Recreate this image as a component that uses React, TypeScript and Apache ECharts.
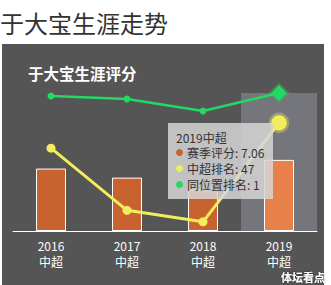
import React, { useEffect, useRef } from "react";
import * as echarts from "echarts";

const years = ["2016", "2017", "2018", "2019"];
const leagues = ["中超", "中超", "中超", "中超"];
const seriesNames = ["赛季评分", "中超排名", "同位置排名"];
const scores = [6.2, 5.3, 4.1, 7.06];
const leagueRanks = [36, 9, 4, 47];
const positionRanks = [2, 3, 7, 1];
const focusIndex = 3;

const FONT = "'Noto Sans CJK SC', 'Noto Sans', sans-serif";
const BAR = "#c8622e";
const BAR_HI = "#e8804a";
const YELLOW = "#f2ed5c";
const GREEN = "#22d964";

export default function App() {
  const ref = useRef<HTMLDivElement>(null);
  useEffect(() => {
    if (!ref.current) return;
    const chart = echarts.init(ref.current, null, { renderer: "svg" });
    const colors = [BAR, YELLOW, GREEN];
    const values = [scores, leagueRanks, positionRanks];
    const tipLines = seriesNames.map((n, i) => `${n}: ${values[i][focusIndex]}`);
    const TZ = 100;
    const option: any = {
      animation: false,
      backgroundColor: "#fff",
      textStyle: { fontFamily: FONT },
      grid: { left: 13, right: 14, top: 93, bottom: 54, containLabel: false },
      tooltip: {
        trigger: "axis",
        showContent: false,
        axisPointer: {
          type: "shadow",
          z: 1,
          shadowStyle: { color: "rgba(210,219,238,0.25)" },
        },
      },
      xAxis: [
        {
          type: "category",
          data: years,
          axisLine: { lineStyle: { color: "#fff", width: 1 } },
          axisTick: { show: false },
          axisLabel: { color: "#fff", fontSize: 12, margin: 8, fontFamily: FONT },
        },
        {
          type: "category",
          position: "bottom",
          data: leagues,
          axisPointer: { show: false },
          axisLine: { show: false },
          axisTick: { show: false },
          axisLabel: { color: "#fff", fontSize: 12, margin: 24, fontFamily: FONT },
        },
      ],
      yAxis: [
        { type: "value", min: 0, max: 13.7, show: false },
        { type: "value", min: 0, max: 60, show: false },
        { type: "value", min: 1, max: 47, inverse: true, show: false },
      ],
      series: [
        {
          name: seriesNames[0],
          type: "bar",
          xAxisIndex: 0,
          yAxisIndex: 0,
          barWidth: 30,
          z: 2,
          emphasis: { disabled: true },
          itemStyle: { color: BAR, borderColor: "#fff", borderWidth: 1 },
          data: scores.map((v, i) =>
            i === focusIndex ? { value: v, itemStyle: { color: BAR_HI } } : v
          ),
        },
        {
          name: seriesNames[1],
          type: "line",
          xAxisIndex: 0,
          yAxisIndex: 1,
          symbol: "circle",
          symbolSize: 9,
          z: 3,
          emphasis: { disabled: true },
          lineStyle: { color: YELLOW, width: 3 },
          itemStyle: { color: YELLOW },
          data: leagueRanks.map((v, i) =>
            i === focusIndex
              ? {
                  value: v,
                  symbolSize: 14,
                  itemStyle: { color: YELLOW, borderColor: "rgba(242,237,92,0.35)", borderWidth: 5 },
                }
              : v
          ),
        },
        {
          name: seriesNames[2],
          type: "line",
          xAxisIndex: 0,
          yAxisIndex: 2,
          symbol: "circle",
          symbolSize: 7,
          z: 3,
          emphasis: { disabled: true },
          lineStyle: { color: GREEN, width: 2.5 },
          itemStyle: { color: GREEN },
          data: positionRanks.map((v, i) =>
            i === focusIndex
              ? {
                  value: v,
                  symbol: "diamond",
                  symbolSize: 14,
                  itemStyle: { color: GREEN, borderColor: "rgba(34,217,100,0.35)", borderWidth: 4 },
                }
              : v
          ),
        },
      ],
      graphic: [
        {
          type: "rect",
          z: -10,
          shape: { x: 2, y: 44, width: 322, height: 241 },
          style: { fill: "#555555" },
          silent: true,
        },
        {
          type: "text",
          x: 0,
          y: 22,
          style: {
            text: "于大宝生涯走势",
            fill: "#333",
            fontSize: 24,
            fontFamily: FONT,
            verticalAlign: "middle",
          },
        },
        {
          type: "text",
          x: 28,
          y: 73,
          style: {
            text: "于大宝生涯评分",
            fill: "#fff",
            fontSize: 15.5,
            fontWeight: "bold",
            fontFamily: FONT,
            verticalAlign: "middle",
          },
        },
        {
          type: "rect",
          z: TZ,
          shape: { x: 168, y: 123, width: 105, height: 76 },
          style: { fill: "rgba(214,214,214,0.85)" },
        },
        {
          type: "text",
          z: TZ + 1,
          x: 176,
          y: 137,
          style: {
            text: `${years[focusIndex]}${leagues[focusIndex]}`,
            fill: "#333",
            fontSize: 12,
            fontFamily: FONT,
            verticalAlign: "middle",
          },
        },
        ...tipLines.flatMap((t, i) => [
          {
            type: "circle",
            z: TZ + 1,
            shape: { cx: 179.5, cy: 152.5 + i * 16, r: 3.5 },
            style: { fill: colors[i] },
          },
          {
            type: "text",
            z: TZ + 1,
            x: 187,
            y: 152.5 + i * 16,
            style: {
              text: t,
              fill: "#333",
              fontSize: 12,
              fontFamily: FONT,
              verticalAlign: "middle",
            },
          },
        ]),
        {
          type: "text",
          x: 325,
          y: 277,
          z: TZ,
          style: {
            text: "体坛看点",
            fill: "#fff",
            fontSize: 11,
            fontWeight: "bold",
            fontFamily: FONT,
            align: "right",
            verticalAlign: "middle",
            textShadowColor: "rgba(0,0,0,0.6)",
            textShadowBlur: 2,
          },
        },
      ],
    };
    chart.setOption(option);
    chart.dispatchAction({ type: "showTip", seriesIndex: 0, dataIndex: focusIndex });
    return () => chart.dispose();
  }, []);
  return (
    <div
      ref={ref}
      style={{ position: "absolute", left: 0, top: 0, width: 331, height: 285 }}
    />
  );
}
